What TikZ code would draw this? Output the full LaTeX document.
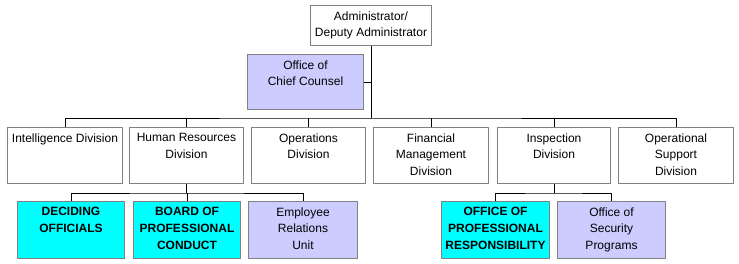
\documentclass[tikz,border=0pt]{standalone}
\usepackage{fontspec}
\setmainfont{Liberation Sans}
\definecolor{aqua}{RGB}{0,255,255}
\definecolor{lilac}{RGB}{204,204,255}
\definecolor{rim}{RGB}{128,128,128}

\begin{document}
\begin{tikzpicture}[x=1pt, y=-1pt, line width=1pt, line join=round,
	font=\fontsize{12}{16.5}\selectfont,
	box/.style 2 args={draw=rim, fill=white, inner sep=0pt, anchor=north west,
		execute at begin node={\begin{minipage}[t][#2pt][t]{#1pt}\centering\vspace*{6pt}},
		execute at end node={\end{minipage}}},
	unit/.style={fill=lilac},
	core/.style={fill=aqua, font=\fontsize{12}{17}\selectfont\bfseries}]
	\useasboundingbox (0,0) rectangle (739,263);
	
	\node[box={121}{40}] (admin) at (310,5) {Administrator/\\Deputy Administrator};
	\node[box={116}{55}, unit] (chief) at (247,54) {Office of\\Chief Counsel};
	
	% divisions
	\node[box={115}{56}] (intel) at (7,127) {Intelligence Division};
	\node[box={114}{56}] (hr) at (129,127) {Human Resources\\Division};
	\node[box={114}{56}] (ops) at (251,127) {Operations\\Division};
	\node[box={115}{56}] (fin) at (373,127) {Financial\\Management\\Division};
	\node[box={113}{56}] (insp) at (497,127) {Inspection\\Division};
	\node[box={115}{56}] (opsup) at (618,127) {Operational\\Support\\Division};
	
	% units
	\node[box={107}{57}, core] (dec) at (17,201) {DECIDING\\OFFICIALS};
	\node[box={107}{57}, core] (bpc) at (133,201) {BOARD OF\\PROFESSIONAL\\CONDUCT};
	\node[box={109}{57}, unit] (eru) at (248,201) {Employee\\Relations\\Unit};
	\node[box={108}{57}, core] (opr) at (441,201) {OFFICE OF\\PROFESSIONAL\\RESPONSIBILITY};
	\node[box={108}{57}, unit] (osp) at (557,201) {Office of\\Security\\Programs};
	
	% connectors
	\coordinate (bus) at (370,118);
	\draw (admin.south) -- (admin.south |- bus);
	\draw (chief.east) -- (chief.east -| admin.south);
	\draw (intel.north) |- (bus) -| (opsup.north);
	\foreach \n in {hr,ops,fin,insp}
	\draw (\n.north) -- (\n.north |- bus);
	
	\draw (hr.south) -- ++(0,9) coordinate (hrbus);
	\draw (dec.north) |- (hrbus) -| (eru.north);
	\draw (bpc.north) -- (bpc.north |- hrbus);
	
	\draw (insp.south) -- ++(0,9) coordinate (ispbus);
	\draw (opr.north) |- (ispbus) -| (osp.north);
\end{tikzpicture}
\end{document}
